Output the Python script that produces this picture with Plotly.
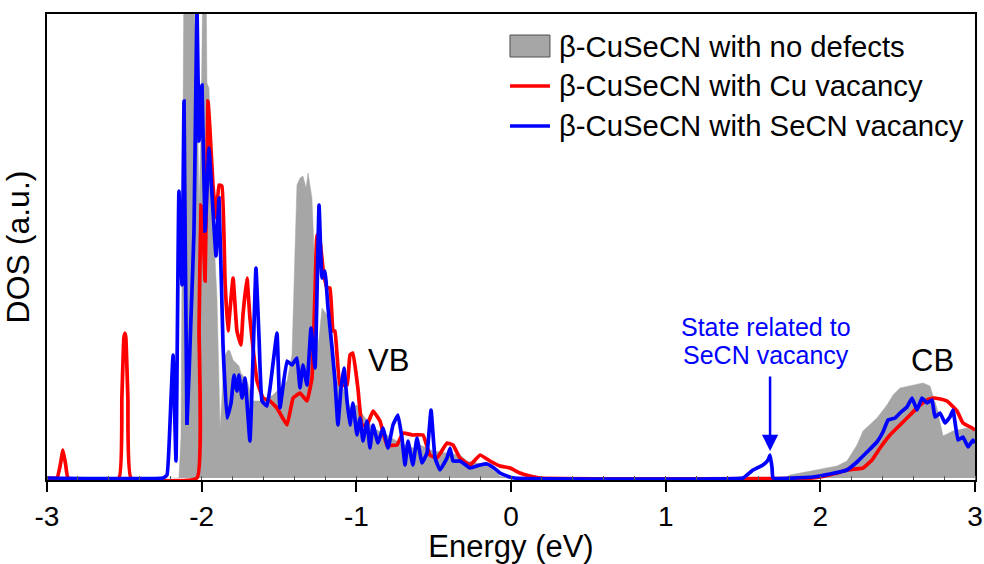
import plotly.graph_objects as go

# ---------------- data (DOS in arbitrary units) ----------------
e_nodef = [-3.0, -2.147, -2.134, -2.121, -2.114, -2.095, -2.075, -2.056, -2.030, -2.017, -2.004,
           -1.991, -1.972, -1.966, -1.953, -1.940, -1.927, -1.914, -1.901, -1.888, -1.881, -1.869,
           -1.856, -1.830, -1.817, -1.797, -1.778, -1.759, -1.746, -1.707, -1.668, -1.603, -1.539,
           -1.494, -1.448, -1.416, -1.397, -1.384, -1.364, -1.345, -1.325, -1.312, -1.287, -1.267,
           -1.248, -1.222, -1.190, -1.157, -1.125, -1.086, -1.041, -0.996, -0.957, -0.892, -0.802,
           -0.718, -0.634, -0.588, -0.504, -0.330, -0.284, -0.155, -0.071, -0.026, 1.770, 1.804,
           1.978, 2.108, 2.172, 2.237, 2.276, 2.366, 2.431, 2.470, 2.515, 2.599, 2.664, 2.709,
           2.754, 2.793, 2.858, 2.948, 3.0]
dos_nodef = [0, 0, 40, 300, 520, 540, 520, 500, 400, 270, 350,
             520, 520, 395, 390, 330, 300, 220, 180, 90, 50, 80,
             120, 128, 127, 118, 115, 112, 105, 97, 77, 77, 83,
             90, 97, 123, 230, 293, 300, 302, 290, 305, 280, 197,
             130, 170, 163, 123, 97, 90, 70, 73, 63, 50, 43,
             35, 30, 33, 27, 23, 17, 13, 2, 0, 0, 3,
             8, 12, 17, 33, 47, 60, 73, 83, 90, 93, 95, 92,
             70, 42, 47, 50, 47]

e_cu = [-3.0, -2.935, -2.913, -2.897, -2.880, -2.864, -2.535, -2.516, -2.503, -2.496, -2.490,
        -2.477, -2.457, -2.030, -2.017, -2.004, -1.991, -1.978, -1.959, -1.946, -1.927, -1.907,
        -1.888, -1.869, -1.849, -1.830, -1.797, -1.772, -1.746, -1.733, -1.707, -1.688, -1.668,
        -1.642, -1.603, -1.558, -1.513, -1.448, -1.409, -1.364, -1.319, -1.287, -1.267, -1.254,
        -1.235, -1.216, -1.190, -1.170, -1.151, -1.138, -1.106, -1.060, -1.041, -1.022, -0.990,
        -0.963, -0.931, -0.892, -0.847, -0.802, -0.737, -0.698, -0.634, -0.569, -0.524, -0.478,
        -0.414, -0.375, -0.330, -0.265, -0.200, -0.136, -0.071, -0.006, 0.058, 0.123, 0.188,
        1.953, 2.108, 2.172, 2.276, 2.334, 2.386, 2.450, 2.515, 2.580, 2.644, 2.690, 2.728,
        2.774, 2.819, 2.884, 2.922, 2.981, 3.0]
dos_cu = [0, 0, 14, 28, 14, 0, 0, 80, 140, 145, 140,
          80, 0, 0, 150, 273, 250, 197, 377, 347, 293, 260,
          293, 292, 197, 147, 200, 147, 133, 163, 200, 160, 130,
          97, 80, 77, 70, 53, 80, 85, 77, 100, 187, 243,
          237, 210, 190, 190, 147, 147, 93, 93, 123, 125, 90,
          53, 53, 67, 57, 33, 33, 45, 43, 43, 23, 20,
          35, 33, 20, 13, 23, 17, 12, 10, 5, 2, 0,
          0, 5, 8, 10, 18, 30, 43, 53, 63, 73, 78, 80,
          79, 77, 67, 55, 50, 48]

e_secn = [-3.0, -2.250, -2.224, -2.198, -2.185, -2.166, -2.147, -2.127, -2.114, -2.095, -2.069,
          -2.050, -2.030, -2.017, -1.998, -1.978, -1.953, -1.933, -1.907, -1.888, -1.862, -1.836,
          -1.810, -1.791, -1.772, -1.759, -1.739, -1.720, -1.688, -1.668, -1.649, -1.629, -1.610,
          -1.578, -1.558, -1.513, -1.494, -1.448, -1.416, -1.384, -1.364, -1.345, -1.319, -1.293,
          -1.267, -1.241, -1.222, -1.203, -1.183, -1.157, -1.138, -1.119, -1.099, -1.080, -1.060,
          -1.041, -1.022, -0.996, -0.976, -0.957, -0.931, -0.912, -0.892, -0.860, -0.828, -0.795,
          -0.763, -0.731, -0.705, -0.685, -0.666, -0.634, -0.608, -0.575, -0.543, -0.517, -0.491,
          -0.459, -0.414, -0.394, -0.375, -0.330, -0.265, -0.200, -0.155, -0.110, -0.071, -0.026,
          0.020, 1.500, 1.526, 1.565, 1.591, 1.629, 1.662, 1.675, 1.688, 1.694, 1.953, 2.063,
          2.172, 2.237, 2.302, 2.366, 2.405, 2.438, 2.483, 2.515, 2.560, 2.593, 2.625, 2.657,
          2.690, 2.722, 2.741, 2.774, 2.806, 2.838, 2.858, 2.890, 2.922, 2.955, 2.987, 3.0]
dos_secn = [0, 0, 3, 80, 123, 17, 287, 193, 377, 53, 160,
            245, 470, 337, 393, 247, 330, 283, 222, 280, 133, 60,
            75, 103, 87, 103, 80, 100, 37, 120, 210, 140, 77,
            72, 90, 145, 70, 117, 113, 120, 90, 113, 93, 150,
            110, 273, 200, 207, 170, 130, 97, 53, 90, 110, 77,
            53, 75, 43, 60, 37, 57, 30, 53, 35, 50, 30,
            53, 63, 40, 13, 37, 13, 40, 15, 25, 68, 20,
            8, 20, 30, 17, 17, 10, 13, 14, 10, 5, 2,
            0, 0, 3, 8, 10, 13, 18, 23, 10, 0, 1, 4,
            8, 16, 26, 36, 46, 58, 60, 65, 71, 80, 68, 80,
            75, 78, 61, 65, 55, 61, 68, 38, 41, 31, 38, 35]

series_names = ["\u03b2-CuSeCN with no defects",
                "\u03b2-CuSeCN with Cu vacancy",
                "\u03b2-CuSeCN with SeCN vacancy"]
x_ticks = [-3, -2, -1, 0, 1, 2, 3]

FONT = "Liberation Sans, Arial, sans-serif"
GRAY = "#A6A6A6"
RED = "#FF0000"
BLUE = "#0000FF"

fig = go.Figure()
fig.add_trace(go.Scatter(x=e_nodef, y=dos_nodef, mode="lines", fill="tozeroy",
                         fillcolor=GRAY, line=dict(color=GRAY, width=0.5),
                         name=series_names[0], showlegend=False))
fig.add_trace(go.Scatter(x=e_cu, y=dos_cu, mode="lines",
                         line=dict(color=RED, width=3.7, shape="spline", smoothing=0.3),
                         name=series_names[1], showlegend=False))
fig.add_trace(go.Scatter(x=e_secn, y=dos_secn, mode="lines",
                         line=dict(color=BLUE, width=3.7, shape="spline", smoothing=0.3),
                         name=series_names[2], showlegend=False))

# ---- custom legend (paper coordinates) ----
shapes = [
    dict(type="rect", xref="paper", yref="paper", x0=0.4989, x1=0.5420, y0=0.9077, y1=0.9549,
         fillcolor=GRAY, line=dict(color="#505050", width=1)),
    dict(type="line", xref="paper", yref="paper", x0=0.4989, x1=0.5420, y0=0.8455, y1=0.8455,
         line=dict(color=RED, width=3.7)),
    dict(type="line", xref="paper", yref="paper", x0=0.4989, x1=0.5420, y0=0.7597, y1=0.7597,
         line=dict(color=BLUE, width=3.7)),
]
annotations = []
for name, yy in zip(series_names, [0.9313, 0.8455, 0.7597]):
    annotations.append(dict(text=name, xref="paper", yref="paper", x=0.5496, y=yy,
                            xanchor="left", yanchor="middle", showarrow=False,
                            font=dict(family=FONT, size=29.3, color="black")))

annotations += [
    dict(text="VB", x=-0.795, y=118, xref="x", yref="y", showarrow=False,
         font=dict(family=FONT, size=31, color="black")),
    dict(text="CB", x=2.728, y=118, xref="x", yref="y", showarrow=False,
         font=dict(family=FONT, size=31, color="black")),
    dict(text="State related to", x=1.649, y=151, xref="x", yref="y", showarrow=False,
         font=dict(family=FONT, size=25, color=BLUE)),
    dict(text="SeCN vacancy", x=1.649, y=123, xref="x", yref="y", showarrow=False,
         font=dict(family=FONT, size=25, color=BLUE)),
    dict(text="", x=1.675, y=27, xref="x", yref="y", ax=0, ay=-76,
         showarrow=True, arrowhead=2, arrowsize=1.3, arrowwidth=2.5, arrowcolor=BLUE),
]

fig.update_layout(
    width=984, height=564,
    margin=dict(l=47, r=9, t=14, b=84, autoexpand=False),
    paper_bgcolor="white", plot_bgcolor="white",
    font=dict(family=FONT, color="black"),
    shapes=shapes, annotations=annotations,
    showlegend=False,
)
fig.update_xaxes(
    range=[-3, 3], tickvals=x_ticks, ticktext=[str(v) for v in x_ticks],
    ticks="outside", ticklen=10, tickwidth=2, tickcolor="black",
    showline=True, linecolor="black", linewidth=2, mirror=True,
    showgrid=False, zeroline=False, automargin=False,
    tickfont=dict(family=FONT, size=28),
    minor=dict(ticks="inside", dtick=0.2, ticklen=4, tickwidth=1, tickcolor="#555"),
    title=dict(text="Energy (eV)", font=dict(family=FONT, size=31), standoff=2),
)
fig.update_yaxes(
    range=[-2, 464], showticklabels=False, ticks="",
    showline=True, linecolor="black", linewidth=2, mirror=True,
    showgrid=False, zeroline=False, automargin=False,
    title=dict(text="DOS (a.u.)", font=dict(family=FONT, size=32), standoff=6),
)

fig.write_html("out.html")
